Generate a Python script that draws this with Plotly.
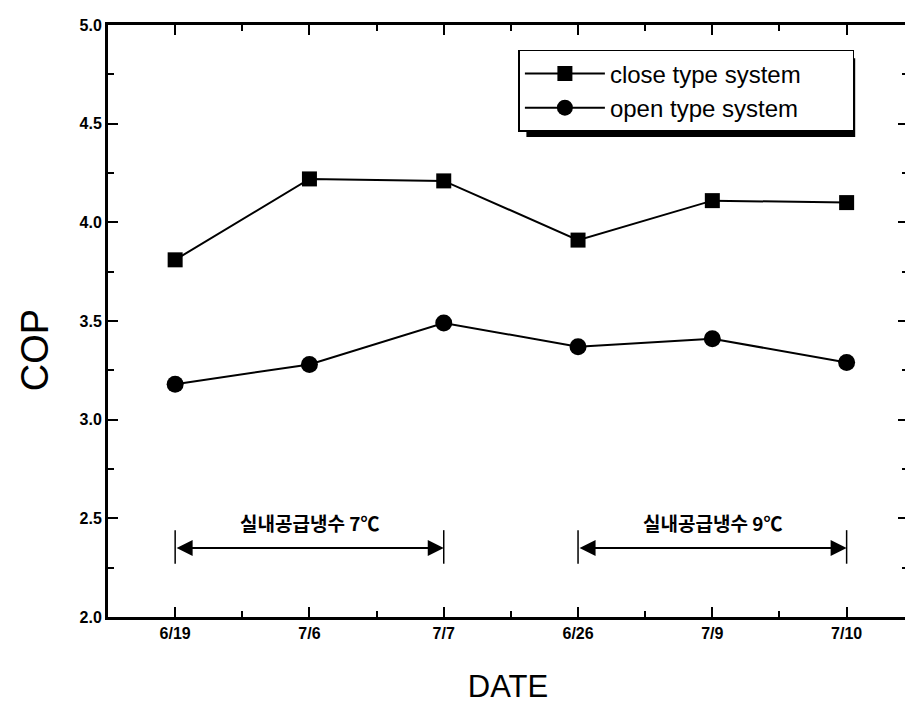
import plotly.graph_objects as go

# COP by measurement date
dates = ['6/19', '7/6', '7/7', '6/26', '7/9', '7/10']
close_cop = [3.81, 4.22, 4.21, 3.91, 4.11, 4.10]
open_cop = [3.18, 3.28, 3.49, 3.37, 3.41, 3.29]

# chilled-water supply temperature periods (start idx, end idx, label)
periods = [(0, 2, '실내공급냉수 7℃'), (3, 5, '실내공급냉수 9℃')]

FONT = 'Liberation Sans, Arial, sans-serif'
PAD = '\u00a0' * 7  # widen legend box
x_idx = list(range(len(dates)))

fig = go.Figure()
fig.add_trace(go.Scatter(
    x=x_idx, y=close_cop, mode='lines+markers', name='close type system' + PAD,
    line=dict(color='black', width=2),
    marker=dict(symbol='square', size=15, color='black')))
fig.add_trace(go.Scatter(
    x=x_idx, y=open_cop, mode='lines+markers', name='open type system' + PAD,
    line=dict(color='black', width=2),
    marker=dict(symbol='circle', size=17, color='black')))

# period arrows with end bars
for start, end, label in periods:
    fig.add_annotation(x=end, y=2.35, ax=start, ay=2.35, xref='x', yref='y',
                       axref='x', ayref='y', showarrow=True, arrowhead=2,
                       arrowside='end+start', arrowsize=1.6, arrowwidth=2,
                       arrowcolor='black', text='')
    fig.add_annotation(x=(start + end) / 2, y=2.48, xref='x', yref='y',
                       text=label, showarrow=False,
                       font=dict(family='Noto Sans CJK KR', size=19, color='black',
                                 weight='bold'))
    for xv in (start, end):
        fig.add_shape(type='line', x0=xv, x1=xv, y0=2.27, y1=2.44,
                      xref='x', yref='y', line=dict(color='black', width=1.5))

# y axis title (sits a bit below centre in the original)
fig.add_annotation(x=-0.091, y=0.451, xref='paper', yref='paper', text='COP',
                   textangle=-90, showarrow=False, xanchor='center',
                   yanchor='middle', font=dict(size=38))

# legend drop shadow
fig.add_shape(type='rect', xref='paper', yref='paper',
              x0=0.523, x1=0.934, y0=0.811, y1=0.944,
              fillcolor='black', line=dict(width=0), layer='below')

fig.update_layout(
    width=905, height=700,
    margin=dict(l=100, r=2, t=17, b=91),
    plot_bgcolor='white', paper_bgcolor='white',
    font=dict(family=FONT, color='black'),
    showlegend=True,
    legend=dict(x=0.513, y=0.958, xanchor='left', yanchor='top',
                bgcolor='white', bordercolor='black', borderwidth=1.5,
                font=dict(size=24, family=FONT), itemwidth=80,
                tracegroupgap=0),
    xaxis=dict(
        title=dict(text='DATE', font=dict(size=31), standoff=35),
        range=[-0.5, 5.457], tickmode='array', tickvals=x_idx, ticktext=dates,
        tickfont=dict(size=16, weight='bold'),
        ticks='inside', ticklen=10, tickwidth=2, tickcolor='black',
        minor=dict(ticks='inside', tick0=0.5, dtick=1, ticklen=6,
                   tickwidth=2, tickcolor='black'),
        showline=True, linewidth=3, linecolor='black', mirror='ticks',
        showgrid=False, zeroline=False),
    yaxis=dict(
        range=[2.0, 5.0], dtick=0.5, tickformat='.1f',
        tickfont=dict(size=16, weight='bold'),
        ticks='inside', ticklen=10, tickwidth=2, tickcolor='black',
        minor=dict(ticks='inside', dtick=0.25, ticklen=6,
                   tickwidth=2, tickcolor='black'),
        showline=True, linewidth=3, linecolor='black', mirror='ticks',
        showgrid=False, zeroline=False),
)

fig.write_html('out.html')
